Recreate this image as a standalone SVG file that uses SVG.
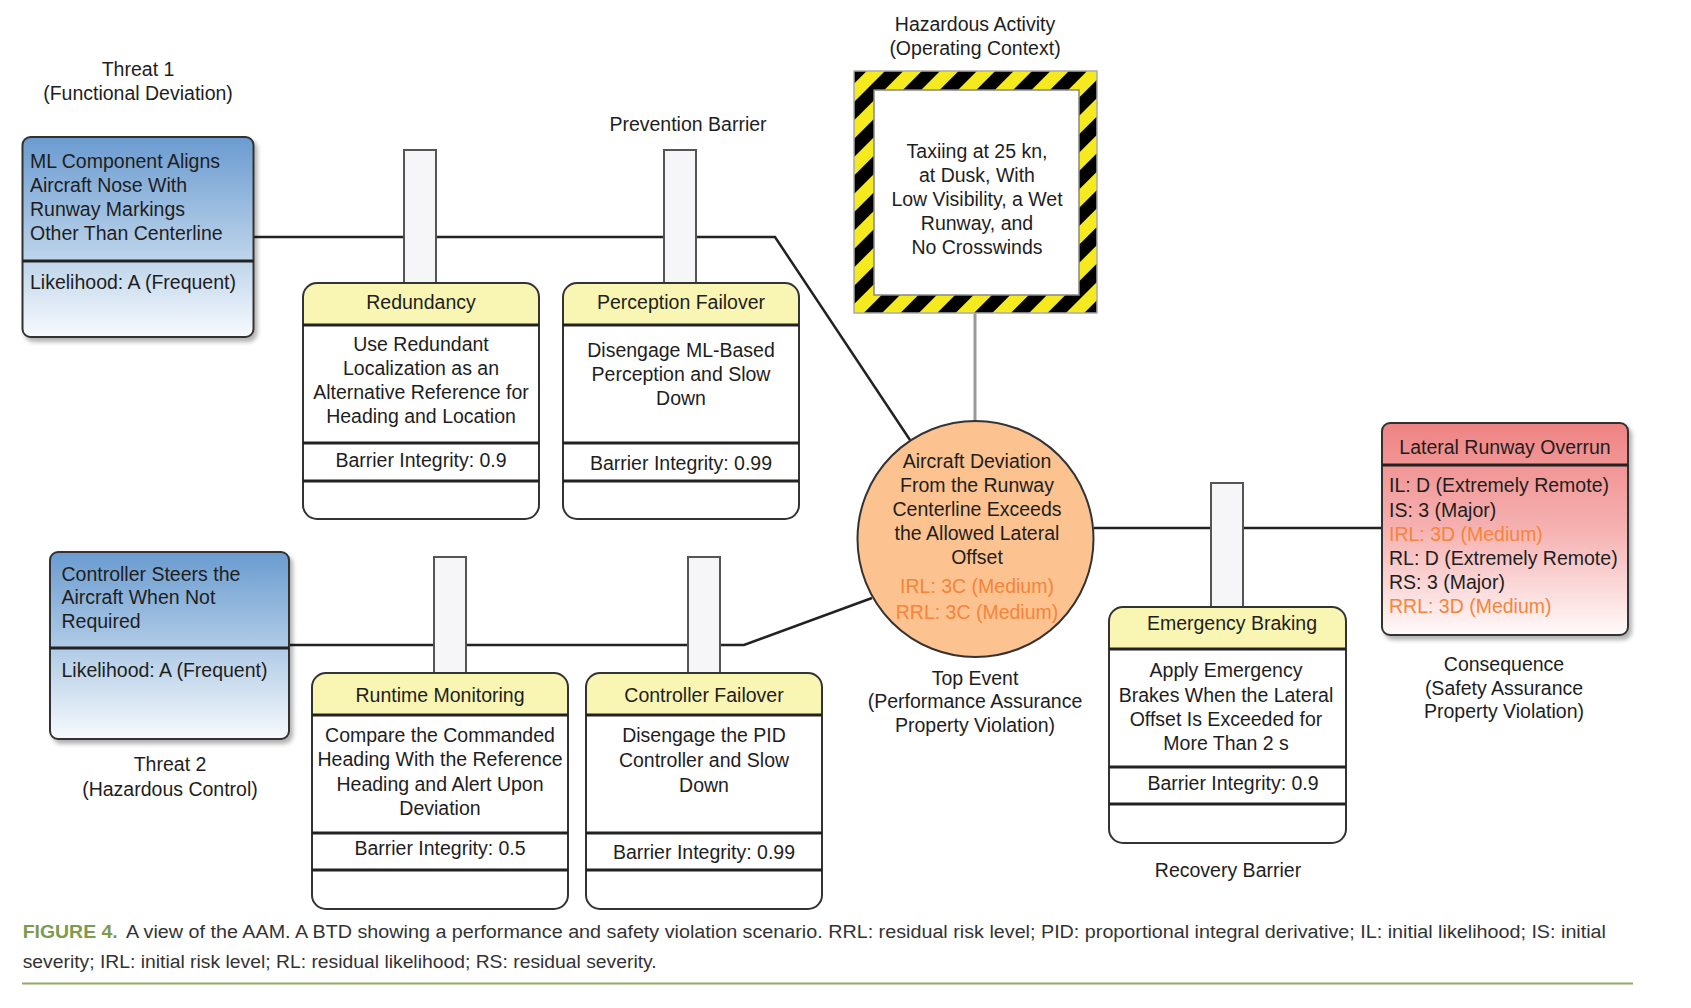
<svg xmlns="http://www.w3.org/2000/svg" width="1691" height="1008" viewBox="0 0 1691 1008">
<defs>
<linearGradient id="gBlue" x1="0" y1="0" x2="0" y2="1">
<stop offset="0" stop-color="#6a9bd0"/>
<stop offset="0.6" stop-color="#bcd3ea"/>
<stop offset="1" stop-color="#f7fafd"/>
</linearGradient>
<linearGradient id="gRed" x1="0" y1="0" x2="0" y2="1">
<stop offset="0" stop-color="#ee8383"/>
<stop offset="0.5" stop-color="#f6b1b1"/>
<stop offset="1" stop-color="#fffafa"/>
</linearGradient>
<pattern id="stripes" patternUnits="userSpaceOnUse" width="26" height="26" patternTransform="rotate(45)">
<rect width="26" height="26" fill="#f5ea1e"/>
<rect width="13" height="26" fill="#000"/>
</pattern>
<filter id="sh" x="-10%" y="-10%" width="125%" height="125%">
<feDropShadow dx="3" dy="4" stdDeviation="2" flood-color="#000" flood-opacity="0.3"/>
</filter>
</defs>
<style>
text{font-family:"Liberation Sans",Arial,Helvetica,sans-serif;font-size:19.5px;fill:#1e1e1e}
.c{text-anchor:middle}
.o{fill:#f5853a}
.card{fill:none;stroke:#333;stroke-width:2}
.body{fill:#fff}
.hdr{fill:#f9f5b2}
.dv{stroke:#222;stroke-width:3}
.post{fill:#f6f6f9;stroke:#555;stroke-width:2}
.ln{stroke:#222;stroke-width:2.5;fill:none}
.cap{font-size:18px;fill:#333}
</style>
<rect width="1691" height="1008" fill="#fff"/>

<g id="connectors">
<path class="ln" d="M254,237 H775 L910,440"/>
<path class="ln" d="M289,645 H744 L872,598"/>
<path class="ln" d="M1094,528 H1382"/>
<path d="M975,313 V421" stroke="#999" stroke-width="3" fill="none"/>
</g>

<g id="threat1">
<text class="c" x="138" y="76">Threat 1</text>
<text class="c" x="138" y="100">(Functional Deviation)</text>
<rect x="22.5" y="137" width="231" height="200" rx="8" fill="url(#gBlue)" stroke="#333" stroke-width="2" filter="url(#sh)"/>
<line class="dv" x1="22.5" y1="261" x2="253.5" y2="261"/>
<text x="30" y="168">ML Component Aligns</text>
<text x="30" y="192">Aircraft Nose With</text>
<text x="30" y="216">Runway Markings</text>
<text x="30" y="240">Other Than Centerline</text>
<text x="30" y="289">Likelihood: A (Frequent)</text>
</g>

<g id="threat2">
<rect x="50" y="552" width="239" height="187" rx="8" fill="url(#gBlue)" stroke="#333" stroke-width="2" filter="url(#sh)"/>
<line class="dv" x1="50" y1="648" x2="289" y2="648"/>
<text x="61.5" y="581">Controller Steers the</text>
<text x="61.5" y="604">Aircraft When Not</text>
<text x="61.5" y="628">Required</text>
<text x="61.5" y="677">Likelihood: A (Frequent)</text>
<text class="c" x="170" y="771">Threat 2</text>
<text class="c" x="170" y="796">(Hazardous Control)</text>
</g>

<g id="prevention-label">
<text class="c" x="688" y="131">Prevention Barrier</text>
</g>

<g id="barrier-redundancy">
<rect class="post" x="404" y="150" width="32" height="133"/>
<rect class="body" x="303" y="283" width="236" height="236" rx="14"/>
<path class="hdr" d="M303,325 V297 A14,14 0 0 1 317,283 H525 A14,14 0 0 1 539,297 V325 Z"/>
<rect class="card" x="303" y="283" width="236" height="236" rx="14"/>
<line class="dv" x1="303" y1="325" x2="539" y2="325"/>
<line class="dv" x1="303" y1="443" x2="539" y2="443"/>
<line class="dv" x1="303" y1="481" x2="539" y2="481"/>
<text class="c" x="421" y="309">Redundancy</text>
<text class="c" x="421" y="351">Use Redundant</text>
<text class="c" x="421" y="375">Localization as an</text>
<text class="c" x="421" y="399">Alternative Reference for</text>
<text class="c" x="421" y="423">Heading and Location</text>
<text class="c" x="421" y="467">Barrier Integrity: 0.9</text>
</g>

<g id="barrier-perception">
<rect class="post" x="664" y="150" width="32" height="133"/>
<rect class="body" x="563" y="283" width="236" height="236" rx="14"/>
<path class="hdr" d="M563,325 V297 A14,14 0 0 1 577,283 H785 A14,14 0 0 1 799,297 V325 Z"/>
<rect class="card" x="563" y="283" width="236" height="236" rx="14"/>
<line class="dv" x1="563" y1="325" x2="799" y2="325"/>
<line class="dv" x1="563" y1="443" x2="799" y2="443"/>
<line class="dv" x1="563" y1="481" x2="799" y2="481"/>
<text class="c" x="681" y="309">Perception Failover</text>
<text class="c" x="681" y="357">Disengage ML-Based</text>
<text class="c" x="681" y="381">Perception and Slow</text>
<text class="c" x="681" y="405">Down</text>
<text class="c" x="681" y="470">Barrier Integrity: 0.99</text>
</g>

<g id="barrier-runtime">
<rect class="post" x="434" y="557" width="32" height="116"/>
<rect class="body" x="312" y="673" width="256" height="236" rx="14"/>
<path class="hdr" d="M312,715 V687 A14,14 0 0 1 326,673 H554 A14,14 0 0 1 568,687 V715 Z"/>
<rect class="card" x="312" y="673" width="256" height="236" rx="14"/>
<line class="dv" x1="312" y1="715" x2="568" y2="715"/>
<line class="dv" x1="312" y1="833" x2="568" y2="833"/>
<line class="dv" x1="312" y1="870" x2="568" y2="870"/>
<text class="c" x="440" y="702">Runtime Monitoring</text>
<text class="c" x="440" y="742">Compare the Commanded</text>
<text class="c" x="440" y="766">Heading With the Reference</text>
<text class="c" x="440" y="791">Heading and Alert Upon</text>
<text class="c" x="440" y="815">Deviation</text>
<text class="c" x="440" y="855">Barrier Integrity: 0.5</text>
</g>

<g id="barrier-controller">
<rect class="post" x="688" y="557" width="32" height="116"/>
<rect class="body" x="586" y="673" width="236" height="236" rx="14"/>
<path class="hdr" d="M586,715 V687 A14,14 0 0 1 600,673 H808 A14,14 0 0 1 822,687 V715 Z"/>
<rect class="card" x="586" y="673" width="236" height="236" rx="14"/>
<line class="dv" x1="586" y1="715" x2="822" y2="715"/>
<line class="dv" x1="586" y1="833" x2="822" y2="833"/>
<line class="dv" x1="586" y1="870" x2="822" y2="870"/>
<text class="c" x="704" y="702">Controller Failover</text>
<text class="c" x="704" y="742">Disengage the PID</text>
<text class="c" x="704" y="767">Controller and Slow</text>
<text class="c" x="704" y="792">Down</text>
<text class="c" x="704" y="859">Barrier Integrity: 0.99</text>
</g>

<g id="hazard">
<text class="c" x="975" y="31">Hazardous Activity</text>
<text class="c" x="975" y="55">(Operating Context)</text>
<rect x="854" y="71" width="243" height="242" fill="url(#stripes)" stroke="#aaa" stroke-width="1.5"/>
<rect x="874" y="90" width="205" height="205" fill="#fff" stroke="#888" stroke-width="1.5"/>
<text class="c" x="977" y="158">Taxiing at 25 kn,</text>
<text class="c" x="977" y="182">at Dusk, With</text>
<text class="c" x="977" y="206">Low Visibility, a Wet</text>
<text class="c" x="977" y="230">Runway, and</text>
<text class="c" x="977" y="254">No Crosswinds</text>
</g>

<g id="top-event">
<circle cx="975.5" cy="539" r="118" fill="#fcc28f" stroke="#333" stroke-width="2"/>
<text class="c" x="977" y="468">Aircraft Deviation</text>
<text class="c" x="977" y="492">From the Runway</text>
<text class="c" x="977" y="516">Centerline Exceeds</text>
<text class="c" x="977" y="540">the Allowed Lateral</text>
<text class="c" x="977" y="564">Offset</text>
<text class="c o" x="977" y="593">IRL: 3C (Medium)</text>
<text class="c o" x="977" y="619">RRL: 3C (Medium)</text>
<text class="c" x="975" y="685">Top Event</text>
<text class="c" x="975" y="708">(Performance Assurance</text>
<text class="c" x="975" y="732">Property Violation)</text>
</g>

<g id="barrier-emergency">
<rect class="post" x="1211" y="483" width="32" height="124"/>
<rect class="body" x="1109" y="607" width="237" height="236" rx="14"/>
<path class="hdr" d="M1109,649 V621 A14,14 0 0 1 1123,607 H1332 A14,14 0 0 1 1346,621 V649 Z"/>
<rect class="card" x="1109" y="607" width="237" height="236" rx="14"/>
<line class="dv" x1="1109" y1="649" x2="1346" y2="649"/>
<line class="dv" x1="1109" y1="767" x2="1346" y2="767"/>
<line class="dv" x1="1109" y1="804" x2="1346" y2="804"/>
<text class="c" x="1232" y="630">Emergency Braking</text>
<text class="c" x="1226" y="677">Apply Emergency</text>
<text class="c" x="1226" y="702">Brakes When the Lateral</text>
<text class="c" x="1226" y="726">Offset Is Exceeded for</text>
<text class="c" x="1226" y="750">More Than 2 s</text>
<text class="c" x="1233" y="790">Barrier Integrity: 0.9</text>
<text class="c" x="1228" y="877">Recovery Barrier</text>
</g>

<g id="consequence">
<rect x="1382" y="423" width="246" height="212" rx="8" fill="url(#gRed)" stroke="#333" stroke-width="2" filter="url(#sh)"/>
<line class="dv" x1="1382" y1="465" x2="1628" y2="465"/>
<text class="c" x="1505" y="454">Lateral Runway Overrun</text>
<text x="1389" y="492">IL: D (Extremely Remote)</text>
<text x="1389" y="517">IS: 3 (Major)</text>
<text class="o" x="1389" y="541">IRL: 3D (Medium)</text>
<text x="1389" y="565">RL: D (Extremely Remote)</text>
<text x="1389" y="589">RS: 3 (Major)</text>
<text class="o" x="1389" y="613">RRL: 3D (Medium)</text>
<text class="c" x="1504" y="671">Consequence</text>
<text class="c" x="1504" y="695">(Safety Assurance</text>
<text class="c" x="1504" y="718">Property Violation)</text>
</g>

<g id="caption">
<text class="cap" x="22.7" y="938" textLength="95" lengthAdjust="spacingAndGlyphs" style="fill:#7d9a4e;font-weight:bold">FIGURE 4.</text>
<text class="cap" x="126" y="938" textLength="1480" lengthAdjust="spacingAndGlyphs">A view of the AAM. A BTD showing a performance and safety violation scenario. RRL: residual risk level; PID: proportional integral derivative; IL: initial likelihood; IS: initial</text>
<text class="cap" x="22.7" y="968" textLength="634" lengthAdjust="spacingAndGlyphs">severity; IRL: initial risk level; RL: residual likelihood; RS: residual severity.</text>
<line x1="22" y1="983.5" x2="1633" y2="983.5" stroke="#93a86a" stroke-width="2"/>
</g>
</svg>
